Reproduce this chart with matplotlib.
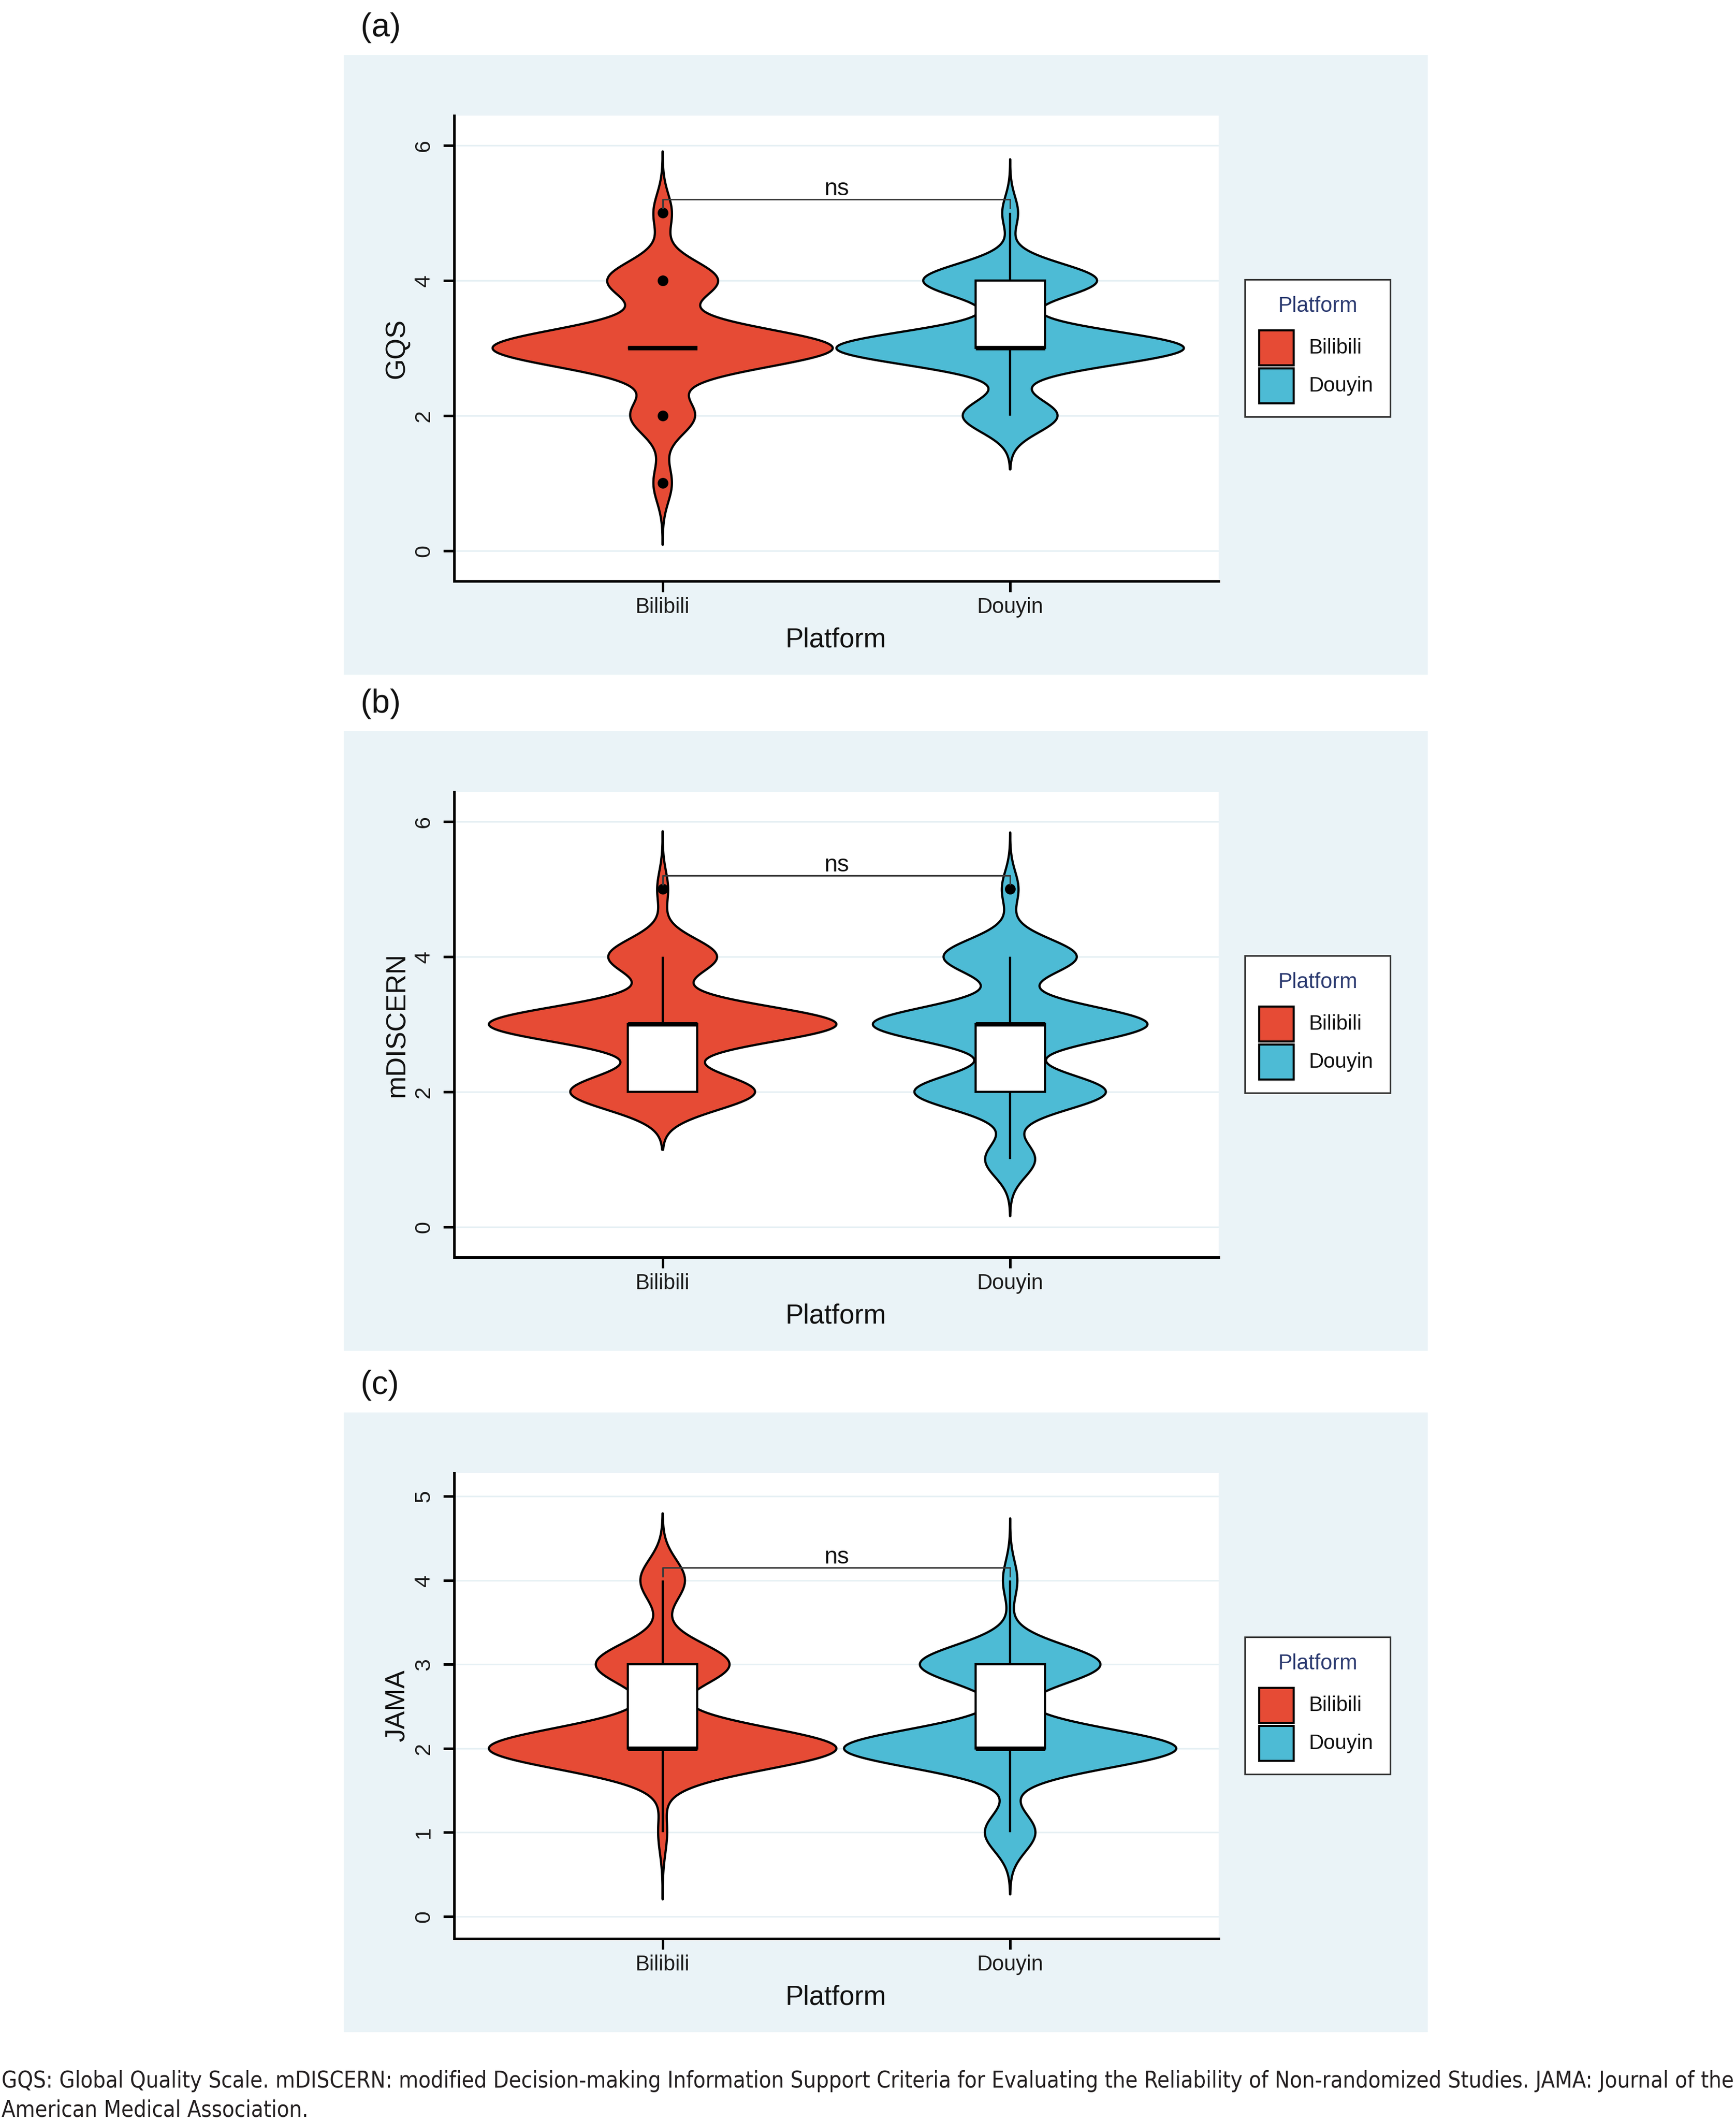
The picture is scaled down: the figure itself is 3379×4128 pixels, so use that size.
import numpy as np
import matplotlib
matplotlib.use('Agg')
import matplotlib.pyplot as plt
from matplotlib.patches import Rectangle, Polygon
from matplotlib import font_manager as fm

# ---------------- data ----------------
platforms = ['Bilibili', 'Douyin']
platform_colors = ['#E64B35', '#4DBBD5']
scores = [1, 2, 3, 4, 5]

# number of videos per score (score 1..5)
gqs_bilibili = [2, 7, 37, 12, 2]
gqs_douyin = [0, 12, 44, 22, 2]
mdiscern_bilibili = [0, 17, 32, 10, 1]
mdiscern_douyin = [6, 23, 33, 16, 2]
jama_bilibili = [1, 39, 15, 5, 0]
jama_douyin = [7, 46, 25, 2, 0]

panel_labels = ['(a)', '(b)', '(c)']
y_titles = ['GQS', 'mDISCERN', 'JAMA']
y_ticks = [[0, 2, 4, 6], [0, 2, 4, 6], [0, 1, 2, 3, 4, 5]]
y_limits = [(-0.449, 6.441), (-0.449, 6.441), (-0.263, 5.276)]
bracket_y = [5.2, 5.2, 4.15]
sig_labels = ['ns', 'ns', 'ns']
x_title = 'Platform'
legend_title = 'Platform'
caption_lines = [
    'GQS: Global Quality Scale. mDISCERN: modified Decision-making Information Support Criteria '
    'for Evaluating the Reliability of Non-randomized Studies. JAMA: Journal of the',
    'American Medical Association.',
]

panel_counts = [
    [gqs_bilibili, gqs_douyin],
    [mdiscern_bilibili, mdiscern_douyin],
    [jama_bilibili, jama_douyin],
]

# ---------------- style ----------------
W, H, DPI = 3380, 4128, 100
BG = '#EAF3F7'
GRID = '#E6F0F4'
FONT = 'Liberation Sans'
plt.rcParams['font.family'] = [FONT, 'DejaVu Sans']
ADJUST = 0.93

# pick a narrow face for the caption if one is installed
cap_prop = None
for f in fm.fontManager.ttflist:
    nm = f.name
    st = str(f.stretch)
    if f.style != 'normal' or str(f.weight) not in ('400', 'normal', 'regular'):
        continue
    if 'Narrow' in nm or 'Condensed' in nm or st in ('condensed', 'semi-condensed', '500', '600'):
        if 'Mono' in nm or 'Serif' in nm or 'CJK' in nm:
            continue
        cap_prop = fm.FontProperties(fname=f.fname)
        break
if cap_prop is None:
    cap_prop = fm.FontProperties(family='Lato')


def nrd0(x):
    sd = np.std(x, ddof=1)
    q75, q25 = np.percentile(x, [75, 25])
    lo = min(sd, (q75 - q25) / 1.34)
    if lo == 0:
        lo = sd
    return 0.9 * lo * len(x) ** -0.2


def ydensity(x, n=512):
    bw = nrd0(x)
    y = np.linspace(x.min() - 3 * bw, x.max() + 3 * bw, n)
    s = ADJUST * bw
    d = np.exp(-0.5 * ((y[:, None] - x[None, :]) / s) ** 2).sum(1) / (len(x) * s * np.sqrt(2 * np.pi))
    return y, d


def box_stats(x):
    q1, med, q3 = np.percentile(x, [25, 50, 75])
    iqr = q3 - q1
    lo_f, hi_f = q1 - 1.5 * iqr, q3 + 1.5 * iqr
    wlo = x[x >= lo_f].min()
    whi = x[x <= hi_f].max()
    out = np.unique(x[(x < lo_f) | (x > hi_f)])
    return q1, med, q3, wlo, whi, out


fig = plt.figure(figsize=(W / DPI, H / DPI), dpi=DPI)
over = fig.add_axes([0, 0, 1, 1], zorder=0)
over.set_xlim(0, W)
over.set_ylim(H, 0)
over.axis('off')

LW = 3.1
for p in range(3):
    dy = [0, 1316, 2642][p]
    # panel background
    over.add_patch(Rectangle((669, 107 + dy), 2110, 1206, fc=BG, ec='none', zorder=0))
    fig.text(702 / W, 1 - (71 + dy) / H, panel_labels[p], fontsize=46, ha='left',
             va='baseline', color='#111111')

    ax = fig.add_axes([884 / W, 1 - (1131 + dy) / H, (2372 - 884) / W, 906 / H], zorder=1)
    ax.set_facecolor('white')
    ax.set_xlim(0.4, 2.6)
    ax.set_ylim(*y_limits[p])
    ax.set_yticks(y_ticks[p])
    ax.set_yticklabels([str(t) for t in y_ticks[p]], rotation=90, va='center', ha='right')
    ax.set_xticks([1, 2])
    ax.set_xticklabels(platforms)
    ax.tick_params(axis='both', length=15, width=3.6, color='black', labelsize=30,
                   labelcolor='#1a1a1a')
    ax.tick_params(axis='y', pad=13, labelsize=31)
    ax.tick_params(axis='x', pad=7)
    for s in ['top', 'right']:
        ax.spines[s].set_visible(False)
    for s in ['left', 'bottom']:
        ax.spines[s].set_linewidth(3.6)
        ax.spines[s].set_color('black')
        ax.spines[s].set_capstyle('projecting')
    ax.yaxis.grid(True, color=GRID, lw=2.2)
    ax.set_axisbelow(True)

    data = [np.repeat(scores, c).astype(float) for c in panel_counts[p]]
    dens = [ydensity(x) for x in data]
    dmax = max(d.max() for _, d in dens)
    for g, (x, (yy, dd)) in enumerate(zip(data, dens)):
        xc = g + 1
        hw = 0.5 * dd / dmax
        xs = np.concatenate([xc - hw, (xc + hw)[::-1]])
        ys = np.concatenate([yy, yy[::-1]])
        ax.add_patch(Polygon(np.column_stack([xs, ys]), closed=True, fc=platform_colors[g],
                             ec='black', lw=LW, joinstyle='round', zorder=2))
        q1, med, q3, wlo, whi, out = box_stats(x)
        bw_box = 0.2
        ax.plot([xc, xc], [q3, whi], color='black', lw=LW, zorder=3, solid_capstyle='butt')
        ax.plot([xc, xc], [wlo, q1], color='black', lw=LW, zorder=3, solid_capstyle='butt')
        ax.add_patch(Rectangle((xc - bw_box / 2, q1), bw_box, q3 - q1, fc='white', ec='black',
                               lw=LW, zorder=3))
        ax.plot([xc - bw_box / 2, xc + bw_box / 2], [med, med], color='black', lw=2 * LW,
                zorder=4, solid_capstyle='butt')
        if len(out):
            ax.plot(np.full(len(out), xc), out, 'o', color='black', ms=14, zorder=4)

    # significance bracket
    yr = y_limits[p][1] - y_limits[p][0]
    tip = 0.019 * yr
    yb = bracket_y[p]
    ax.plot([1, 1, 2, 2], [yb - tip, yb, yb, yb - tip], color='#3a3a3a', lw=2.2, zorder=5)
    ax.annotate(sig_labels[p], xy=(1.5, yb), xytext=(0, 6), textcoords='offset points',
                ha='center', va='baseline', fontsize=33, color='#111111', zorder=5)

    # axis titles
    over.text(773, 678 + dy, y_titles[p], rotation=90, ha='center', va='center',
              fontsize=38, color='#111111')
    over.text(1627, 1260 + dy, x_title, ha='center', va='baseline', fontsize=38,
              color='#111111')

    # legend
    over.add_patch(Rectangle((2423, 544 + dy), 283, 267, fc='white', ec='#333333', lw=2.2,
                             zorder=2))
    over.text(2565, 607 + dy, legend_title, ha='center', va='baseline', fontsize=30,
              color='#2B3A70', zorder=3)
    key_tops = [643, 717]
    for g in range(2):
        over.add_patch(Rectangle((2451, key_tops[g] + dy), 67, 68, fc=platform_colors[g],
                                 ec='black', lw=2.9, zorder=3))
        over.text(2548, key_tops[g] + 34 + dy, platforms[g], ha='left', va='center',
                  fontsize=29, color='#111111', zorder=3)

# caption, sized to span the page width
renderer = fig.canvas.get_renderer()
cap_texts = []
for i, line in enumerate(caption_lines):
    t = fig.text(3 / W, 1 - [4063, 4120][i] / H, line, ha='left', va='baseline',
                 fontproperties=cap_prop, fontsize=34, color='#231F20')
    cap_texts.append(t)
w0 = cap_texts[0].get_window_extent(renderer).width
fs = 34 * 3372 / w0
for t in cap_texts:
    t.set_fontsize(fs)

fig.savefig('out.png', dpi=DPI, facecolor='white')
